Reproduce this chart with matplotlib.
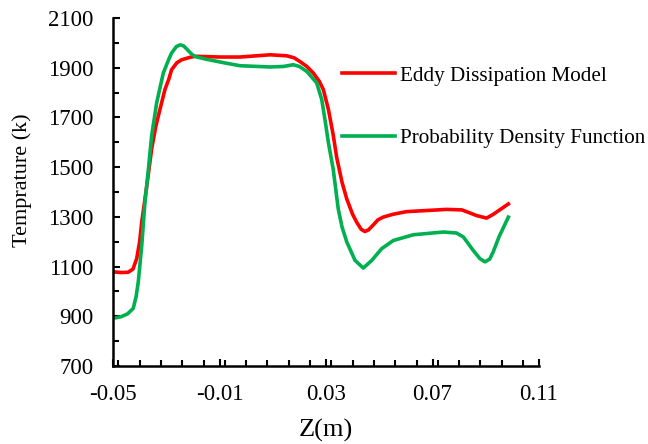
import matplotlib.pyplot as plt
from matplotlib.ticker import MultipleLocator

plt.rcParams['font.family'] = ['Liberation Serif', 'DejaVu Serif']

# Eddy Dissipation Model
z_edm = [-0.05, -0.047, -0.0443, -0.0425, -0.0411, -0.04, -0.0392, -0.0373, -0.0355,
         -0.034, -0.033, -0.0305, -0.029, -0.028, -0.026, -0.0242, -0.021, -0.0192,
         -0.0098, -0.0023, 0.004, 0.009, 0.0152, 0.018, 0.0202, 0.0228, 0.0252,
         0.0275, 0.029, 0.0309, 0.0327, 0.034, 0.036, 0.0378, 0.04, 0.0415, 0.0432,
         0.0446, 0.046, 0.0478, 0.0495, 0.0515, 0.055, 0.0578, 0.0603, 0.0753, 0.081,
         0.0835, 0.0866, 0.0903, 0.0928, 0.0955, 0.0985]
t_edm = [1079, 1076, 1077, 1090, 1132, 1200, 1280, 1425, 1572,
         1660, 1705, 1812, 1855, 1892, 1920, 1932, 1942, 1946,
         1943, 1943, 1948, 1952, 1948, 1940, 1925, 1905, 1879,
         1845, 1812, 1732, 1630, 1540, 1440, 1372, 1310, 1279, 1250,
         1241, 1248, 1268, 1288, 1299, 1310, 1316, 1321, 1330, 1328,
         1318, 1305, 1295, 1310, 1330, 1352]

# Probability Density Function
z_pdf = [-0.05, -0.047, -0.0445, -0.0424, -0.0413, -0.0405, -0.0392, -0.038, -0.0367,
         -0.0355, -0.0336, -0.0311, -0.029, -0.028, -0.0262, -0.0248, -0.0235, -0.0223,
         -0.0205, -0.0192, -0.0154, -0.0079, -0.0023, 0.009, 0.014, 0.0177, 0.02,
         0.0228, 0.0265, 0.0284, 0.0296, 0.0309, 0.0327, 0.0346, 0.036, 0.0378, 0.0409,
         0.044, 0.0472, 0.0509, 0.0553, 0.0628, 0.0741, 0.079, 0.0816, 0.0853, 0.0878,
         0.0897, 0.0915, 0.0928, 0.095, 0.0985]
t_pdf = [892, 898, 910, 932, 980, 1039, 1185, 1359, 1492,
         1625, 1759, 1879, 1935, 1959, 1985, 1992, 1988, 1975,
         1955, 1945, 1935, 1919, 1908, 1903, 1905, 1912, 1905,
         1885, 1839, 1772, 1692, 1599, 1492, 1332, 1260, 1199, 1125,
         1094, 1125, 1172, 1205, 1228, 1239, 1235, 1219, 1165, 1132,
         1119, 1130, 1159, 1220, 1299]

fig = plt.figure(figsize=(6.48, 4.44), dpi=100)
ax = fig.add_axes([113 / 648, 1 - 366 / 444, (539 - 113) / 648, (366 - 18) / 444])

l1, = ax.plot(z_edm, t_edm, color='#FF0000', lw=2.6, solid_joinstyle='round',
              label='Eddy Dissipation Model')
l2, = ax.plot(z_pdf, t_pdf, color='#00B050', lw=2.6, solid_joinstyle='round',
              label='Probability Density Function')

ax.set_xlim(-0.05, 0.11)
ax.set_ylim(700, 2100)
ax.set_xticks([-0.05, -0.01, 0.03, 0.07, 0.11])
ax.set_xticklabels(['-0.05', '-0.01', '0.03', '0.07', '0.11'])
ax.set_yticks(range(700, 2101, 200))
ax.xaxis.set_minor_locator(MultipleLocator(0.008))
ax.yaxis.set_minor_locator(MultipleLocator(100))
ax.tick_params(which='both', direction='in', width=1.5, labelsize=16.5)
ax.tick_params(axis='y', which='both', pad=14)
ax.tick_params(axis='x', which='both', pad=13)
ax.tick_params(which='major', length=5)
ax.tick_params(which='minor', length=4)
for s in ['top', 'right']:
    ax.spines[s].set_visible(False)
for s in ['left', 'bottom']:
    ax.spines[s].set_linewidth(1.8)

ax.set_xlabel('Z(m)', fontsize=19, labelpad=10)
ax.set_ylabel('Temprature (k)', fontsize=16)
ax.yaxis.set_label_coords(-0.19, 0.535)

fig.legend(handles=[l1, l2], loc='upper left', bbox_to_anchor=(323 / 648, 1 - 47 / 444),
           frameon=False, fontsize=15.2, handlelength=2.5, handletextpad=0.25,
           labelspacing=2.03)

fig.savefig('out.png', dpi=100)
